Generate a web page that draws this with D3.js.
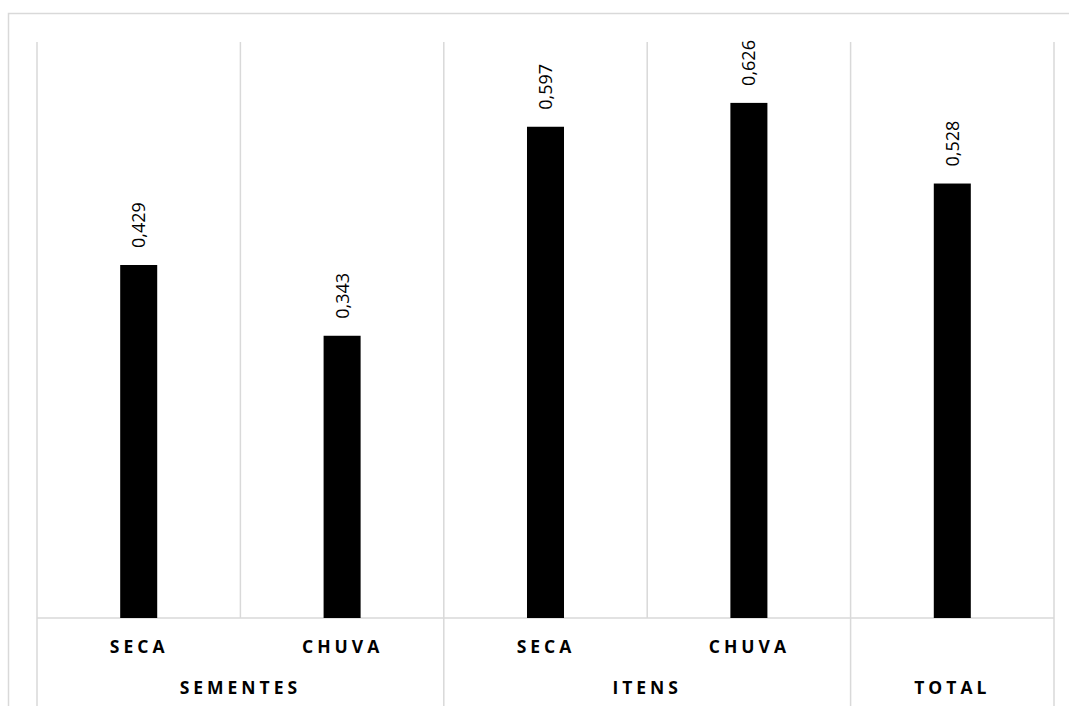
<!DOCTYPE html>
<html>
<head>
<meta charset="utf-8">
<script src="https://cdn.jsdelivr.net/npm/d3@7"></script>
<style>
  html, body { margin: 0; padding: 0; background: #fff; }
  svg { display: block; }
</style>
</head>
<body>
<script>
// Bar values by period, with the two-level category axis
const periods = ["SECA", "CHUVA", "SECA", "CHUVA", ""];
const groups = ["SEMENTES", "SEMENTES", "ITENS", "ITENS", "TOTAL"];
const values = [0.429, 0.343, 0.597, 0.626, 0.528];
const valueLabels = ["0,429", "0,343", "0,597", "0,626", "0,528"];
const groupNames = ["SEMENTES", "ITENS", "TOTAL"];

const W = 1069, H = 706;
const plotLeft = 37, plotRight = 1054, plotTop = 42, baseline = 618;
const grid = "#d9d9d9";
const spacing = 4;

const svg = d3.select("body").append("svg").attr("width", W).attr("height", H);

// chart frame
svg.append("rect").attr("x", 8.5).attr("y", 13.5).attr("width", 1080).attr("height", 720)
  .attr("fill", "none").attr("stroke", grid).attr("stroke-width", 1.5);

const idx = d3.range(values.length);
const x = d3.scaleBand().domain(idx).range([plotLeft, plotRight]).padding(0);
const y = d3.scaleLinear().domain([0, 0.7]).range([baseline, plotTop]);

// vertical gridlines between categories
const gl = svg.append("g").attr("stroke", grid).attr("stroke-width", 1.5);
idx.concat([values.length]).forEach(i => {
  const xx = i < values.length ? x(i) : x(values.length - 1) + x.bandwidth();
  // does this line separate two groups (or sit at an outer edge)?
  const outer = i === 0 || i === values.length || groups[i] !== groups[i - 1];
  gl.append("line").attr("x1", xx).attr("x2", xx).attr("y1", plotTop)
    .attr("y2", outer ? 706 : baseline);
});
// category axis line
gl.append("line").attr("x1", plotLeft).attr("x2", plotRight).attr("y1", baseline).attr("y2", baseline);

// bars
const bw = x.bandwidth() * 0.182;
svg.append("g").selectAll("rect").data(idx).join("rect")
  .attr("x", i => x(i) + x.bandwidth() / 2 - bw / 2)
  .attr("y", i => y(values[i]))
  .attr("width", bw)
  .attr("height", i => baseline - y(values[i]))
  .attr("fill", "#000");

// value labels, rotated
svg.append("g").selectAll("text").data(idx).join("text")
  .attr("transform", i => `translate(${x(i) + x.bandwidth() / 2 + 6.5},${y(values[i]) - 17}) rotate(-90)`)
  .attr("font-family", "Open Sans, sans-serif")
  .attr("font-size", 18)
  .attr("fill", "#000")
  .text(i => valueLabels[i]);

// first level of category labels
svg.append("g").selectAll("text").data(idx).join("text")
  .attr("x", i => x(i) + x.bandwidth() / 2 + spacing / 2 - 1.5)
  .attr("y", 653)
  .attr("text-anchor", "middle")
  .attr("font-family", "Open Sans, sans-serif")
  .attr("font-weight", "bold")
  .attr("font-size", 17.5)
  .attr("letter-spacing", spacing)
  .attr("fill", "#000")
  .text(i => periods[i]);

// second level: group names centred under their categories
svg.append("g").selectAll("text").data(groupNames).join("text")
  .attr("x", g => {
    const members = idx.filter(i => groups[i] === g);
    const x0 = x(members[0]);
    const x1 = x(members[members.length - 1]) + x.bandwidth();
    return (x0 + x1) / 2 + spacing / 2 - 2;
  })
  .attr("y", 694)
  .attr("text-anchor", "middle")
  .attr("font-family", "Open Sans, sans-serif")
  .attr("font-weight", "bold")
  .attr("font-size", 17.5)
  .attr("letter-spacing", spacing)
  .attr("fill", "#000")
  .text(g => g);
</script>
</body>
</html>
